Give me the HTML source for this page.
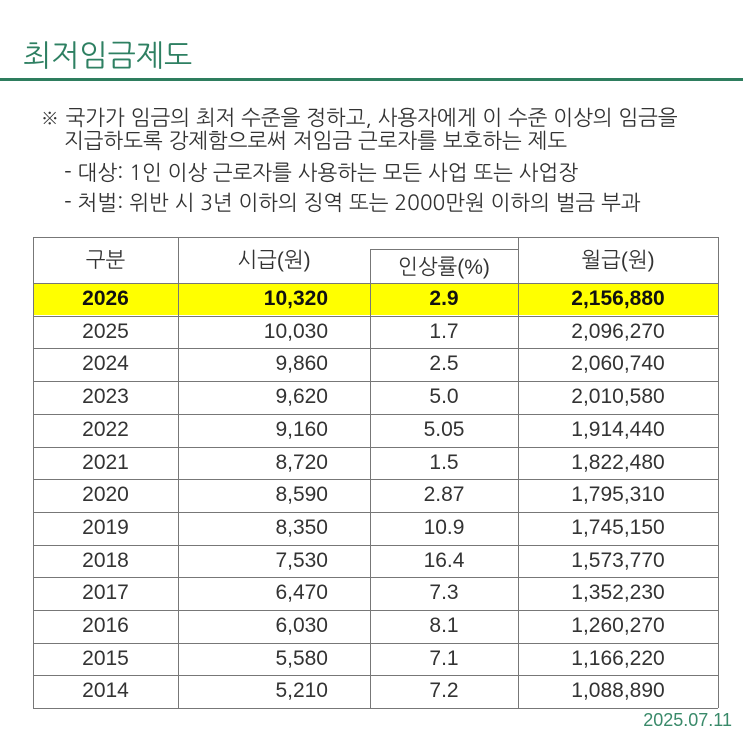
<!DOCTYPE html>
<html><head><meta charset="utf-8"><style>
body{margin:0;width:743px;height:743px;background:#fff;position:relative;overflow:hidden;font-family:"Liberation Sans","NanumGothic","Noto Sans CJK KR",sans-serif;color:#333}
.a{position:absolute;white-space:nowrap}
.t{font-size:21px;line-height:24px}
.c{position:absolute;font-size:21px;line-height:32px;text-align:center;color:#333}
.h{position:absolute;background:#777;height:1px}
.v{position:absolute;background:#777;width:1px}
</style></head><body>
<div class="a" style="left:23px;top:37px;font-size:30px;color:#2e8062;font-family:'NanumGothic',sans-serif">최저임금제도</div>
<div class="a" style="left:0;top:78px;width:743px;height:3px;background:#2e7d5e"></div>
<div class="a t" style="left:40px;top:107px;font-family:'NanumGothic',sans-serif">※ 국가가 임금의 최저 수준을 정하고, 사용자에게 이 수준 이상의 임금을</div>
<div class="a t" style="left:64px;top:130px;font-family:'NanumGothic',sans-serif">지급하도록 강제함으로써 저임금 근로자를 보호하는 제도</div>
<div class="a t" style="left:64px;top:162px;font-family:'NanumGothic',sans-serif">- 대상: 1인 이상 근로자를 사용하는 모든 사업 또는 사업장</div>
<div class="a t" style="left:64px;top:192px;font-family:'NanumGothic',sans-serif">- 처벌: 위반 시 3년 이하의 징역 또는 2000만원 이하의 벌금 부과</div>

<div class="a" style="left:33px;top:283px;width:685px;height:32px;background:#ffff00"></div>
<div class="h" style="left:33px;top:237px;width:685px"></div>
<div class="h" style="left:370px;top:249px;width:148px"></div>
<div class="h" style="left:33px;top:283px;width:685px"></div>
<div id="rows"></div>
<div class="v" style="left:33px;top:237px;height:471px"></div>
<div class="v" style="left:178px;top:237px;height:471px"></div>
<div class="v" style="left:370px;top:249px;height:459px"></div>
<div class="v" style="left:518px;top:237px;height:471px"></div>
<div class="v" style="left:718px;top:237px;height:471px"></div>

<div class="c" style="left:33px;top:245px;width:145px">구분</div>
<div class="c" style="left:178px;top:245px;width:192px">시급(원)</div>
<div class="c" style="left:370px;top:252px;width:148px">인상률(%)</div>
<div class="c" style="left:518px;top:245px;width:200px">월급(원)</div>
<div class="a" style="right:11px;top:710px;font-size:18px;color:#3a8a6a">2025.07.11</div>
<script>
var d=[["2026","10,320","2.9","2,156,880"],["2025","10,030","1.7","2,096,270"],["2024","9,860","2.5","2,060,740"],["2023","9,620","5.0","2,010,580"],["2022","9,160","5.05","1,914,440"],["2021","8,720","1.5","1,822,480"],["2020","8,590","2.87","1,795,310"],["2019","8,350","10.9","1,745,150"],["2018","7,530","16.4","1,573,770"],["2017","6,470","7.3","1,352,230"],["2016","6,030","8.1","1,260,270"],["2015","5,580","7.1","1,166,220"],["2014","5,210","7.2","1,088,890"]];
var h="";
for(var i=0;i<d.length;i++){var y=283+i*32.7;var b=i==0?"font-weight:bold;color:#111;":"";
h+='<div class="h" style="left:33px;top:'+(y+32.7).toFixed(1)+'px;width:685px"></div>';
h+='<div class="c" style="'+b+'left:33px;top:'+y.toFixed(1)+'px;width:145px">'+d[i][0]+'</div>';
h+='<div class="c" style="'+b+'left:178px;top:'+y.toFixed(1)+'px;width:150px;text-align:right">'+d[i][1]+'</div>';
h+='<div class="c" style="'+b+'left:370px;top:'+y.toFixed(1)+'px;width:148px">'+d[i][2]+'</div>';
h+='<div class="c" style="'+b+'left:518px;top:'+y.toFixed(1)+'px;width:200px">'+d[i][3]+'</div>';}
document.getElementById("rows").innerHTML=h;
</script>
</body></html>
